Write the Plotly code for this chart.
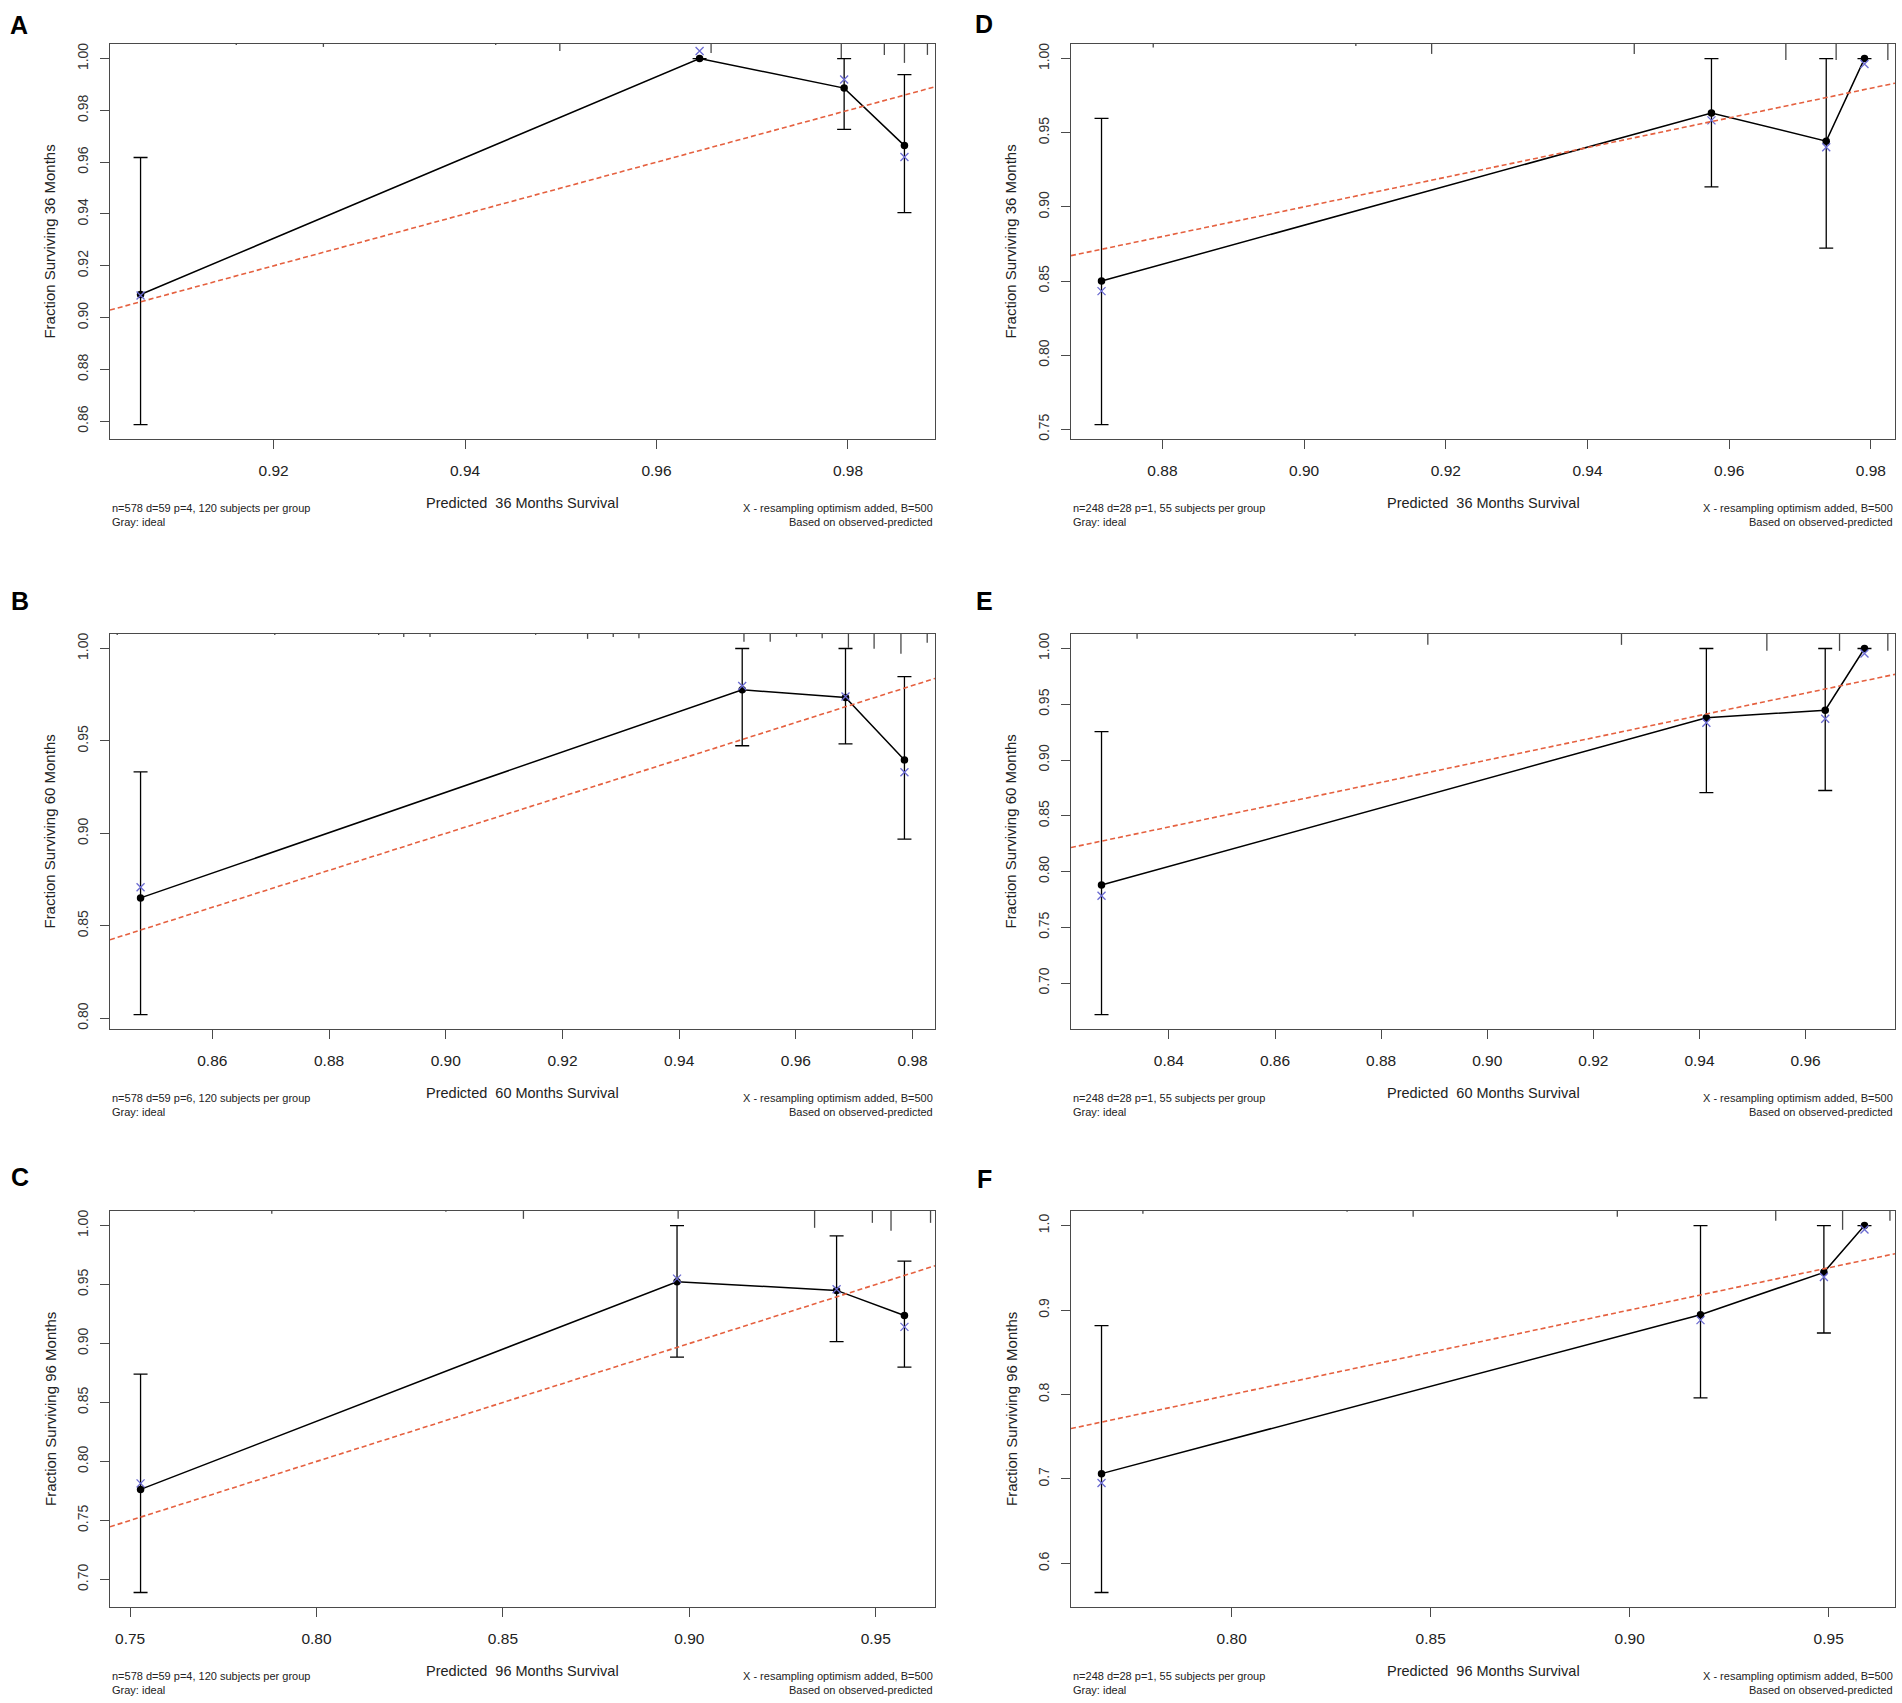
import plotly.graph_objects as go
from plotly.subplots import make_subplots

# ---------------- data ----------------
# Panel A : 36 months, cohort 1
pred_A = [0.9061, 0.9645, 0.9796, 0.9859]
obs_A = [0.9089, 1.0000, 0.9886, 0.9664]
corr_A = [0.9085, 1.0029, 0.9919, 0.9620]
lo_A = [0.8587, 1.0000, 0.9727, 0.9405]
hi_A = [0.9618, 1.0000, 1.0000, 0.9938]
rug_x_A = [0.9161, 0.9252, 0.9432, 0.9499, 0.9657, 0.9793, 0.9838, 0.9859, 0.9883]
rug_f_A = [0.05, 0.15, 0.05, 0.35, 0.45, 0.70, 0.55, 0.95, 0.55]

# Panel B : 60 months, cohort 1
pred_B = [0.8477, 0.9508, 0.9685, 0.9786]
obs_B = [0.8651, 0.9777, 0.9735, 0.9397]
corr_B = [0.8709, 0.9797, 0.9740, 0.9331]
lo_B = [0.8020, 0.9474, 0.9484, 0.8969]
hi_B = [0.9333, 1.0000, 1.0000, 0.9848]
rug_x_B = [0.8437, 0.8707, 0.8885, 0.8928, 0.8973, 0.9154, 0.9243, 0.9287, 0.9331,
           0.9511, 0.9556, 0.9601, 0.9645, 0.9690, 0.9734, 0.9780, 0.9825]
rug_f_B = [0.05, 0.05, 0.05, 0.15, 0.15, 0.05, 0.25, 0.15, 0.22,
           0.40, 0.40, 0.15, 0.22, 0.70, 0.75, 1.00, 0.45]

# Panel C : 96 months, cohort 1
pred_C = [0.7528, 0.8967, 0.9395, 0.9577]
obs_C = [0.7763, 0.9524, 0.9450, 0.9237]
corr_C = [0.7814, 0.9550, 0.9460, 0.9141]
lo_C = [0.6889, 0.8885, 0.9016, 0.8800]
hi_C = [0.8740, 1.0000, 0.9913, 0.9698]
rug_x_C = [0.7672, 0.7880, 0.8347, 0.8555, 0.8970, 0.9336, 0.9491, 0.9541, 0.9647]
rug_f_C = [0.05, 0.15, 0.05, 0.40, 0.40, 0.85, 0.60, 1.00, 0.60]

# Panel D : 36 months, cohort 2
pred_D = [0.8714, 0.9575, 0.9737, 0.9791]
obs_D = [0.8500, 0.9633, 0.9443, 1.0000]
corr_D = [0.8432, 0.9583, 0.9402, 0.9963]
lo_D = [0.7532, 0.9135, 0.8722, 1.0000]
hi_D = [0.9597, 1.0000, 1.0000, 1.0000]
rug_x_D = [0.8787, 0.9073, 0.9180, 0.9466, 0.9680, 0.9751, 0.9824]
rug_f_D = [0.18, 0.10, 0.50, 0.50, 0.80, 0.80, 0.80]

# Panel E : 60 months, cohort 2
pred_E = [0.8273, 0.9413, 0.9637, 0.9711]
obs_E = [0.7879, 0.9379, 0.9447, 1.0000]
corr_E = [0.7783, 0.9334, 0.9370, 0.9955]
lo_E = [0.6718, 0.8708, 0.8727, 1.0000]
hi_E = [0.9255, 1.0000, 1.0000, 1.0000]
rug_x_E = [0.8340, 0.8751, 0.8888, 0.9253, 0.9527, 0.9664, 0.9755]
rug_f_E = [0.25, 0.10, 0.55, 0.55, 0.85, 0.85, 0.85]

# Panel F : 96 months, cohort 2
pred_F = [0.7673, 0.9178, 0.9488, 0.9590]
obs_F = [0.7063, 0.8945, 0.9446, 1.0000]
corr_F = [0.6952, 0.8880, 0.9390, 0.9953]
lo_F = [0.5656, 0.7961, 0.8728, 1.0000]
hi_F = [0.8814, 1.0000, 1.0000, 1.0000]
rug_x_F = [0.7777, 0.8290, 0.8456, 0.8969, 0.9367, 0.9535, 0.9654]
rug_f_F = [0.15, 0.05, 0.30, 0.30, 0.50, 0.95, 0.50]

letters = ["A", "D", "B", "E", "C", "F"]
months = ["36", "36", "60", "60", "96", "96"]
info_left = [
    "n=578 d=59 p=4, 120 subjects per group",
    "n=248 d=28 p=1, 55 subjects per group",
    "n=578 d=59 p=6, 120 subjects per group",
    "n=248 d=28 p=1, 55 subjects per group",
    "n=578 d=59 p=4, 120 subjects per group",
    "n=248 d=28 p=1, 55 subjects per group",
]
x_dticks = [0.02, 0.02, 0.02, 0.02, 0.05, 0.05]
y_dticks = [0.02, 0.05, 0.05, 0.05, 0.05, 0.1]
y_formats = [".2f", ".2f", ".2f", ".2f", ".2f", ".1f"]

panels = [
    (pred_A, obs_A, corr_A, lo_A, hi_A, rug_x_A, rug_f_A),
    (pred_D, obs_D, corr_D, lo_D, hi_D, rug_x_D, rug_f_D),
    (pred_B, obs_B, corr_B, lo_B, hi_B, rug_x_B, rug_f_B),
    (pred_E, obs_E, corr_E, lo_E, hi_E, rug_x_E, rug_f_E),
    (pred_C, obs_C, corr_C, lo_C, hi_C, rug_x_C, rug_f_C),
    (pred_F, obs_F, corr_F, lo_F, hi_F, rug_x_F, rug_f_F),
]

# ---------------- layout geometry ----------------
W, H = 1902, 1703
col_px = [(110, 935), (1071, 1895)]
row_px = [(43, 439), (634, 1030), (1212, 1609)]
letter_px = [(19, 24), (984, 23), (20, 601), (984, 601), (20, 1178), (984, 1180)]
RUG_MAX_PX = 20

FONT = "Liberation Sans, Arial, sans-serif"
AXC = "#4a4a4a"

fig = make_subplots(rows=3, cols=2)


def r_range(vals):
    a, b = min(vals), max(vals)
    d = b - a
    return [a - 0.04 * d, b + 0.04 * d]


annotations = []
shapes = []
for i, (pred, obs, corr, lo, hi, rx, rf) in enumerate(panels):
    r, c = i // 2, i % 2
    row, col = r + 1, c + 1
    xr = r_range(pred)
    yr = r_range(lo + hi)
    xname = "x" if i == 0 else f"x{i+1}"
    yname = "y" if i == 0 else f"y{i+1}"
    box_h = row_px[r][1] - row_px[r][0]

    # observed KM estimates with CI
    fig.add_trace(go.Scatter(
        x=pred, y=obs, mode="lines+markers",
        line=dict(color="black", width=1.5),
        marker=dict(color="black", size=7.5, symbol="circle"),
        error_y=dict(type="data", symmetric=False,
                     array=[h - o for h, o in zip(hi, obs)],
                     arrayminus=[o - l for o, l in zip(obs, lo)],
                     color="black", thickness=1.3, width=7),
        showlegend=False, hoverinfo="skip"), row=row, col=col)
    # optimism-corrected
    fig.add_trace(go.Scatter(
        x=pred, y=corr, mode="markers",
        marker=dict(symbol="x-thin", size=8, line=dict(color="#6b6bd1", width=1.3)),
        showlegend=False, hoverinfo="skip"), row=row, col=col)
    # ideal line
    fig.add_trace(go.Scatter(
        x=xr, y=xr, mode="lines",
        line=dict(color="#e5603f", width=1.6, dash="5px,3px"),
        showlegend=False, hoverinfo="skip"), row=row, col=col)

    # rug of predicted values along the top
    for xv, fv in zip(rx, rf):
        shapes.append(dict(type="line", xref=xname, yref=f"{yname} domain",
                           x0=xv, x1=xv, y0=1, y1=1 - fv * RUG_MAX_PX / box_h,
                           line=dict(color=AXC, width=1.3)))

    dom_x = [col_px[c][0] / W, col_px[c][1] / W]
    dom_y = [1 - row_px[r][1] / H, 1 - row_px[r][0] / H]
    fig.update_xaxes(domain=dom_x, range=xr, dtick=x_dticks[i], tick0=0,
                     tickformat=".2f", row=row, col=col)
    fig.update_yaxes(domain=dom_y, range=yr, dtick=y_dticks[i], tick0=0,
                     tickformat=y_formats[i], tickangle=-90, row=row, col=col)

    xd, yd = f"{xname} domain", f"{yname} domain"
    foot = dict(family=FONT, size=11, color="#222")
    annotations += [
        dict(xref=xd, yref=yd, x=0.5, y=0, yshift=-64, showarrow=False,
             text=f"Predicted\u00a0 {months[i]} Months Survival",
             font=dict(family=FONT, size=14.5, color="#222"), yanchor="middle"),
        dict(xref=xd, yref=yd, x=0, y=0.5, xshift=-60, showarrow=False,
             text=f"Fraction Surviving {months[i]} Months", textangle=-90,
             font=dict(family=FONT, size=15, color="#222"), xanchor="center"),
        dict(xref=xd, yref=yd, x=0, y=0, yshift=-69, showarrow=False,
             text=info_left[i], xanchor="left", yanchor="middle", font=foot),
        dict(xref=xd, yref=yd, x=0, y=0, yshift=-83, showarrow=False,
             text="Gray: ideal", xanchor="left", yanchor="middle", font=foot),
        dict(xref=xd, yref=yd, x=1, y=0, yshift=-69, showarrow=False,
             text="X - resampling optimism added, B=500", xanchor="right",
             yanchor="middle", font=foot),
        dict(xref=xd, yref=yd, x=1, y=0, yshift=-83, showarrow=False,
             text="Based on observed-predicted", xanchor="right",
             yanchor="middle", font=foot),
        dict(xref="paper", yref="paper", x=letter_px[i][0] / W,
             y=1 - letter_px[i][1] / H, showarrow=False, text=f"<b>{letters[i]}</b>",
             xanchor="center", yanchor="middle",
             font=dict(family=FONT, size=25, color="black")),
    ]

fig.update_xaxes(showline=True, mirror=True, linecolor=AXC, linewidth=1.3,
                 ticks="outside", ticklen=9, tickcolor=AXC, tickwidth=1.2,
                 showgrid=False, zeroline=False, ticklabelstandoff=8,
                 tickfont=dict(family=FONT, size=15.5, color="#222"))
fig.update_yaxes(showline=True, mirror=True, linecolor=AXC, linewidth=1.3,
                 ticks="outside", ticklen=9, tickcolor=AXC, tickwidth=1.2,
                 showgrid=False, zeroline=False, ticklabelstandoff=6,
                 tickfont=dict(family=FONT, size=14, color="#333"))

fig.update_layout(width=W, height=H, margin=dict(l=0, r=0, t=0, b=0),
                  paper_bgcolor="white", plot_bgcolor="white",
                  annotations=annotations, shapes=shapes)

fig.write_html("out.html",
               config={"displayModeBar": False},
               post_script="document.body.style.margin='0';"
                           "document.body.style.padding='0';"
                           "document.body.style.overflow='hidden';")
